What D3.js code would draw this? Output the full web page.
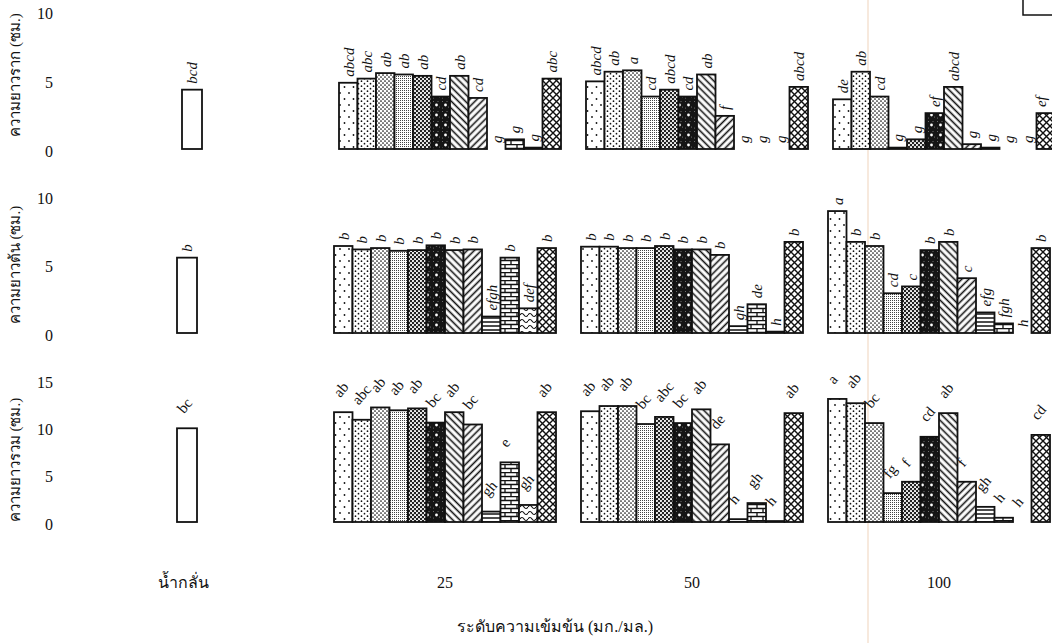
<!DOCTYPE html>
<html>
<head>
<meta charset="utf-8">
<script src="https://cdn.jsdelivr.net/npm/d3@7"></script>
<style>
  body { margin: 0; background: #fff; }
  svg { display: block; }
</style>
</head>
<body>
<script>
// groups on the x axis, control has one bar, the others have 12 treatments
var groups = ["น้ำกลั่น", "25", "50", "100"];
var concGroups = ["25", "50", "100"];
var treatments = ["T1","T2","T3","T4","T5","T6","T7","T8","T9","T10","T11","T12"];

var panelTitles = ["ความยาวราก (ซม.)", "ความยาวต้น (ซม.)", "ความยาวรวม (ซม.)"];
var panelMax = [10, 10, 15];
var panelTicks = [[0, 5, 10], [0, 5, 10], [0, 5, 10, 15]];

var controlValues = [4.3, 5.5, 9.9];
var controlLetters = ["bcd", "b", "bc"];

// root length
var root25  = [4.8, 5.1, 5.5, 5.4, 5.3, 3.8, 5.3, 3.7, 0, 0.7, 0.1, 5.1];
var root50  = [4.9, 5.6, 5.7, 3.8, 4.3, 3.8, 5.4, 2.4, 0, 0, 0, 4.5];
var root100 = [3.6, 5.6, 3.8, 0.1, 0.7, 2.6, 4.5, 0.35, 0.1, 0, 0, 2.6];
var root25L  = ["abcd","abc","ab","ab","ab","cd","ab","cd","g","g","g","abc"];
var root50L  = ["abcd","ab","a","cd","abcd","cd","ab","f","g","g","g","abcd"];
var root100L = ["de","ab","cd","g","g","ef","abcd","g","g","g","g","ef"];

// shoot length
var shoot25  = [6.35, 6.1, 6.2, 6.0, 6.05, 6.4, 6.05, 6.1, 1.2, 5.5, 1.8, 6.2];
var shoot50  = [6.3, 6.3, 6.2, 6.2, 6.35, 6.1, 6.1, 5.7, 0.5, 2.1, 0.1, 6.65];
var shoot100 = [8.9, 6.65, 6.35, 2.9, 3.4, 6.05, 6.65, 4.0, 1.5, 0.7, 0, 6.2];
var shoot25L  = ["b","b","b","b","b","b","b","b","efgh","b","def","b"];
var shoot50L  = ["b","b","b","b","b","b","b","b","gh","de","h","b"];
var shoot100L = ["a","b","b","cd","c","b","b","c","efg","fgh","h","b"];

// total length
var total25  = [11.6, 10.8, 12.1, 11.8, 12.0, 10.5, 11.6, 10.3, 1.1, 6.3, 1.8, 11.6];
var total50  = [11.7, 12.25, 12.25, 10.35, 11.1, 10.45, 11.9, 8.2, 0.3, 2.0, 0.1, 11.5];
var total100 = [13.0, 12.55, 10.45, 3.05, 4.25, 9.0, 11.5, 4.25, 1.6, 0.45, 0, 9.2];
var total25L  = ["ab","abc","ab","ab","ab","bc","ab","bc","gh","e","gh","ab"];
var total50L  = ["ab","ab","ab","bc","abc","bc","ab","de","h","gh","h","ab"];
var total100L = ["a","ab","bc","fg","f","cd","ab","f","gh","h","h","cd"];

var panelValues = [[root25, root50, root100], [shoot25, shoot50, shoot100], [total25, total50, total100]];
var panelLetters = [[root25L, root50L, root100L], [shoot25L, shoot50L, shoot100L], [total25L, total50L, total100L]];

var width = 1052, height = 643;
var serif = "'Liberation Serif', 'DejaVu Serif', serif";
var thai = "'Liberation Serif', 'Noto Sans', 'DejaVu Sans', sans-serif";

// layout of each panel (scan is slightly skewed, top panel sits a bit right)
var layout = [
  {bottom: 149, top: 11, shift: 5, titleY: 75, angle: -90, gap: 6, italic: true},
  {bottom: 333, top: 196, shift: 0, titleY: 265, angle: -90, gap: 6, italic: true},
  {bottom: 522, top: 380, shift: 0, titleY: 460, angle: -50, gap: 14, italic: false}
];

var svg = d3.select("body").append("svg")
    .attr("width", width)
    .attr("height", height);

svg.append("rect").attr("width", width).attr("height", height).attr("fill", "#fff");

// ---------- patterns ----------
var defs = svg.append("defs");

function pattern(id, w, h, draw, transform) {
  var p = defs.append("pattern")
      .attr("id", id)
      .attr("patternUnits", "userSpaceOnUse")
      .attr("width", w)
      .attr("height", h);
  if (transform) p.attr("patternTransform", transform);
  p.append("rect").attr("width", w).attr("height", h).attr("fill", "#fff");
  draw(p);
}
function dots(p, pts, r, col) {
  pts.forEach(function(d) {
    p.append("circle").attr("cx", d[0]).attr("cy", d[1]).attr("r", r).attr("fill", col || "#111");
  });
}

pattern("p0", 9, 12, function(p) { dots(p, [[2.5, 3], [7, 9]], 0.9); });
pattern("p1", 6, 5, function(p) { dots(p, [[1.5, 1.2], [4.5, 3.7]], 0.85); });
pattern("p2", 4, 4, function(p) { dots(p, [[1, 1], [3, 3]], 0.85); });
pattern("p3", 2, 2, function(p) {
  p.append("rect").attr("width", 1).attr("height", 1).attr("fill", "#444");
});
pattern("p4", 4, 4, function(p) {
  p.append("rect").attr("width", 4).attr("height", 4).attr("fill", "#222");
  dots(p, [[1, 1], [3, 3]], 1.05, "#fff");
});
pattern("p5", 9, 10, function(p) {
  p.append("rect").attr("width", 9).attr("height", 10).attr("fill", "#151515");
  dots(p, [[1.5, 1.5], [6, 1.5], [1.5, 8], [7.5, 7]], 0.5, "#888");
  dots(p, [[4.5, 5]], 1.4, "#fff");
});
pattern("p6", 5, 5, function(p) {
  p.append("line").attr("x1", 2.5).attr("x2", 2.5).attr("y1", 0).attr("y2", 5)
      .attr("stroke", "#111").attr("stroke-width", 1.6);
}, "rotate(-45)");
pattern("p7", 5, 5, function(p) {
  p.append("line").attr("x1", 2.5).attr("x2", 2.5).attr("y1", 0).attr("y2", 5)
      .attr("stroke", "#111").attr("stroke-width", 1.6);
}, "rotate(45)");
pattern("p8", 4, 4, function(p) {
  p.append("line").attr("x1", 0).attr("x2", 4).attr("y1", 2).attr("y2", 2)
      .attr("stroke", "#111").attr("stroke-width", 1.5);
});
pattern("p9", 12, 8, function(p) {
  p.append("path")
      .attr("d", "M0,0.5H12M0,4.5H12M1,0.5V4.5M7,4.5V8.5")
      .attr("stroke", "#111").attr("stroke-width", 1.3).attr("fill", "none");
});
pattern("p10", 8, 6, function(p) {
  p.append("path")
      .attr("d", "M0,3 Q2,0 4,3 T8,3")
      .attr("stroke", "#111").attr("stroke-width", 1.2).attr("fill", "none");
});
pattern("p11", 7, 7, function(p) {
  p.append("path")
      .attr("d", "M0,0L7,7M7,0L0,7")
      .attr("stroke", "#111").attr("stroke-width", 1.4).attr("fill", "none");
});

var fills = treatments.map(function(t, i) { return "url(#p" + i + ")"; });

// ---------- scales ----------
var groupX = d3.scaleOrdinal()
    .domain(groups)
    .range([187, 445, 692, 939]);

var inner = d3.scaleBand()
    .domain(treatments)
    .range([-111, 111]);

// faint scanner line
svg.append("line")
    .attr("x1", 868).attr("x2", 868).attr("y1", 0).attr("y2", height)
    .attr("stroke", "#f4e2d2").attr("stroke-width", 1.5);

layout.forEach(function(L, pi) {
  var y = d3.scaleLinear()
      .domain([0, panelMax[pi]])
      .range([L.bottom, L.top]);

  var g = svg.append("g");

  var axis = d3.axisLeft(y).tickValues(panelTicks[pi]).tickSize(0).tickPadding(0);
  var ax = g.append("g").attr("transform", "translate(53,2)").call(axis);
  ax.select(".domain").remove();
  ax.selectAll(".tick text")
      .attr("fill", "#111")
      .attr("font-family", serif)
      .attr("font-size", 16);

  g.append("text")
      .attr("transform", "translate(20," + L.titleY + ") rotate(-90)")
      .attr("text-anchor", "middle")
      .attr("font-family", thai)
      .attr("font-size", 15)
      .attr("fill", "#111")
      .text(panelTitles[pi]);

  // control bar
  var cx = groupX(groups[0]) + L.shift;
  g.append("rect")
      .attr("x", cx - 10)
      .attr("y", y(controlValues[pi]))
      .attr("width", 20)
      .attr("height", L.bottom - y(controlValues[pi]))
      .attr("fill", "#fff")
      .attr("stroke", "#111")
      .attr("stroke-width", 1.8);

  addLabel(g, cx, y(controlValues[pi]), controlLetters[pi], L);

  concGroups.forEach(function(grp, gi) {
    var vals = panelValues[pi][gi];
    var lets = panelLetters[pi][gi];
    var gx = groupX(grp) + L.shift;

    treatments.forEach(function(t, i) {
      var v = vals[i];
      var x0 = gx + inner(t);
      if (v > 0) {
        g.append("rect")
            .attr("x", x0)
            .attr("y", y(v))
            .attr("width", inner.bandwidth())
            .attr("height", L.bottom - y(v))
            .attr("fill", fills[i])
            .attr("stroke", "#111")
            .attr("stroke-width", 1.8);
      }
      addLabel(g, Math.min(x0 + inner.bandwidth() / 2, 1041), y(v), lets[i], L);
    });
  });
});

function addLabel(g, x, top, txt, L) {
  var t = g.append("text")
      .attr("font-family", serif)
      .attr("font-size", 15)
      .attr("font-style", L.italic ? "italic" : "normal")
      .attr("fill", "#111")
      .attr("text-anchor", "start")
      .text(txt);
  if (L.angle === -90) {
    t.attr("transform", "translate(" + x + "," + (top - L.gap) + ") rotate(-90)")
        .attr("dy", "0.35em");
  } else {
    t.attr("transform", "translate(" + (x - 3) + "," + (top - L.gap) + ") rotate(" + L.angle + ")");
  }
}

// x group labels
svg.selectAll(".grp-label")
    .data(groups)
    .enter().append("text")
    .attr("class", "grp-label")
    .attr("x", function(d, i) { return i === 0 ? groupX(d) - 4 : groupX(d); })
    .attr("y", 588)
    .attr("text-anchor", "middle")
    .attr("font-family", function(d, i) { return i === 0 ? thai : serif; })
    .attr("font-size", 16)
    .attr("fill", "#111")
    .text(function(d) { return d; });

svg.append("text")
    .attr("x", 555)
    .attr("y", 632)
    .attr("text-anchor", "middle")
    .attr("font-family", thai)
    .attr("font-size", 16)
    .attr("fill", "#111")
    .text("ระดับความเข้มข้น (มก./มล.)");

// legend box, cut off at the top right corner
svg.append("rect")
    .attr("x", 1023).attr("y", -3)
    .attr("width", 40).attr("height", 18)
    .attr("fill", "none")
    .attr("stroke", "#111")
    .attr("stroke-width", 1.5);
</script>
</body>
</html>
